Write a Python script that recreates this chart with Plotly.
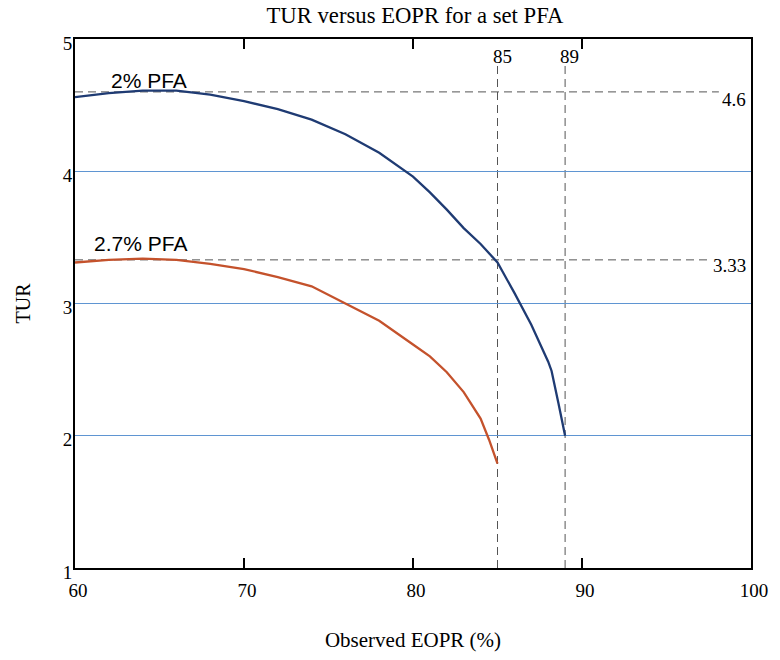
import plotly.graph_objects as go

# ---- data ----
eopr_2pct = [60, 62, 64, 66, 68, 70, 72, 74, 76, 78, 80, 81, 82, 83, 84, 85, 86, 87, 88, 88.2, 88.6, 89]
tur_2pct = [4.56, 4.59, 4.61, 4.61, 4.58, 4.53, 4.47, 4.39, 4.28, 4.14, 3.96, 3.84, 3.71, 3.57, 3.45, 3.31, 3.08, 2.84, 2.56, 2.49, 2.25, 2.00]

eopr_27pct = [60, 62, 64, 66, 68, 70, 72, 74, 76, 78, 80, 81, 82, 83, 84, 84.5, 85]
tur_27pct = [3.31, 3.33, 3.34, 3.33, 3.30, 3.26, 3.20, 3.13, 3.00, 2.87, 2.69, 2.60, 2.48, 2.33, 2.13, 1.97, 1.79]

ref_eopr = [85, 89]
ref_tur = [4.6, 3.33]
ref_tur_labels = ["4.6", "3.33"]
ref_tur_line_end = [98.1, 97.6]
ref_tur_label_y = [4.545, 3.29]

x_ticks = [60, 70, 80, 90, 100]
y_ticks = [1, 2, 3, 4, 5]

SERIF = "Liberation Serif, Times New Roman, serif"
SANS = "Liberation Sans, Arial, sans-serif"
BLUE = "#1f3b73"
ORANGE = "#c4522c"
GRID = "#5f95d2"
DASH = "#555555"

fig = go.Figure()
fig.add_trace(go.Scatter(x=eopr_2pct, y=tur_2pct, mode="lines",
                         line=dict(color=BLUE, width=2.3), showlegend=False))
fig.add_trace(go.Scatter(x=eopr_27pct, y=tur_27pct, mode="lines",
                         line=dict(color=ORANGE, width=2.3), showlegend=False))

# dashed reference lines
for xv in ref_eopr:
    fig.add_shape(type="line", xref="x", yref="y", x0=xv, x1=xv, y0=1, y1=4.83,
                  line=dict(color=DASH, width=1, dash="8px,5px"), layer="below")
for yv, xe in zip(ref_tur, ref_tur_line_end):
    fig.add_shape(type="line", xref="x", yref="y", x0=60, x1=xe, y0=yv, y1=yv,
                  line=dict(color=DASH, width=1, dash="8px,5px"), layer="below")

# labels for reference lines
for xv in ref_eopr:
    fig.add_annotation(x=xv + 0.27, y=4.87, xref="x", yref="y", text=str(xv),
                       showarrow=False, font=dict(family=SERIF, size=19, color="black"))
for ly, lab in zip(ref_tur_label_y, ref_tur_labels):
    fig.add_annotation(x=99.8, y=ly, xref="x", yref="y", text=lab, xanchor="right",
                       showarrow=False, font=dict(family=SERIF, size=19, color="black"))

# curve labels
fig.add_annotation(x=64.37, y=4.69, xref="x", yref="y", text="2% PFA",
                   showarrow=False, font=dict(family=SANS, size=21, color="black"))
fig.add_annotation(x=63.85, y=3.45, xref="x", yref="y", text="2.7% PFA",
                   showarrow=False, font=dict(family=SANS, size=21, color="black"))

fig.update_layout(
    width=780, height=660,
    margin=dict(l=75, r=19, t=39, b=77),
    paper_bgcolor="white", plot_bgcolor="white",
    title=dict(text="TUR versus EOPR for a set PFA", x=0.532, xanchor="center",
               xref="container", yref="container",
               y=1 - 15 / 660, yanchor="middle",
               font=dict(family=SERIF, size=22.7, color="black")),
    xaxis=dict(range=[60, 100], tickvals=x_ticks, ticktext=[str(v) for v in x_ticks],
               ticks="inside", ticklen=10, tickwidth=2, tickcolor="black",
               showgrid=False, zeroline=False,
               showline=True, linecolor="black", linewidth=2, mirror="ticks",
               ticklabelstandoff=4, ticklabelshift=3,
               tickfont=dict(family=SERIF, size=19, color="black"),
               title=dict(text="Observed EOPR (%)", standoff=33,
                          font=dict(family=SERIF, size=21, color="black"))),
    yaxis=dict(range=[1, 5], tickvals=y_ticks, ticktext=[str(v) for v in y_ticks],
               ticks="", showgrid=True, gridcolor=GRID, gridwidth=1.2, zeroline=False,
               showline=True, linecolor="black", linewidth=2, mirror=True,
               ticklabelstandoff=-3, ticklabelshift=4,
               tickfont=dict(family=SERIF, size=19, color="black"),
               title=dict(text="TUR", standoff=27,
                          font=dict(family=SERIF, size=20, color="black"))),
)

fig.write_html("out.html", config={"displayModeBar": False},
               post_script="document.body.style.margin='0';")
